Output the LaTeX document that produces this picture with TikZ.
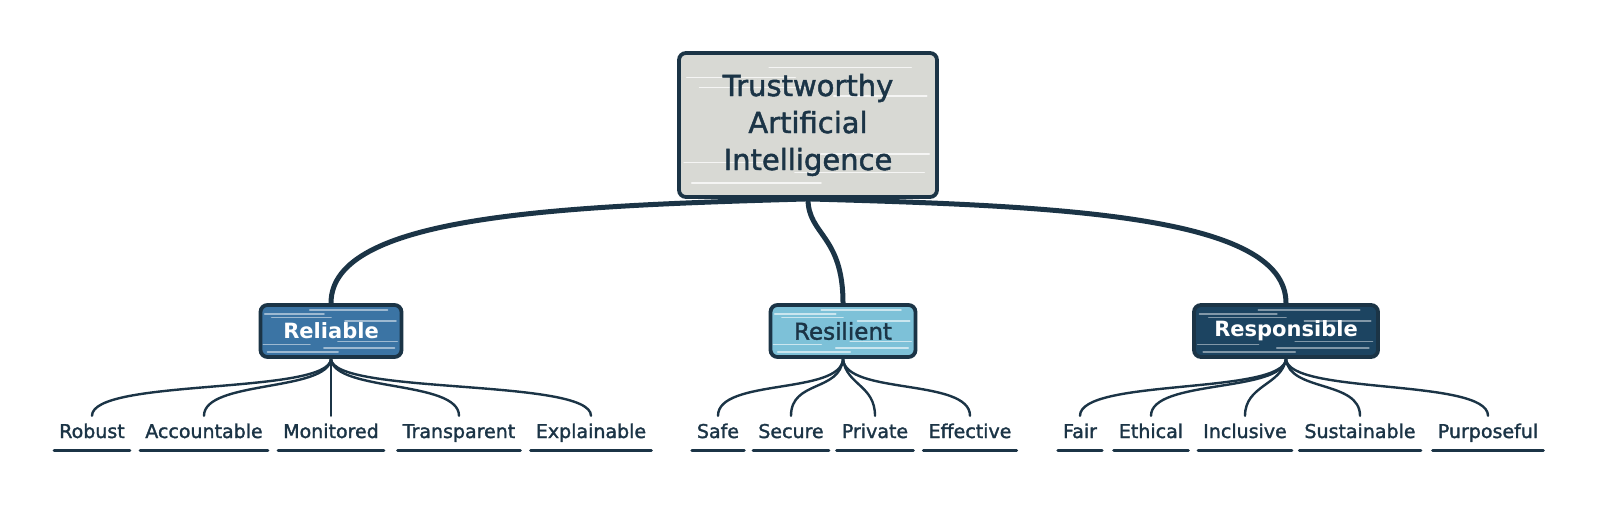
\documentclass[tikz,border=0pt]{standalone}
\usepackage{fontspec}
\setmainfont{DejaVu Sans}
\newfontfamily\medfont{DejaVu Sans}[FakeBold=1.6]
\usetikzlibrary{calc}
\definecolor{ink}{HTML}{1B3446}
\definecolor{rootfill}{HTML}{D8D9D4}
\definecolor{relfill}{HTML}{3B74A4}
\definecolor{resfill}{HTML}{7DC1D8}
\definecolor{rspfill}{HTML}{1C4461}
\tikzset{
  hatch/.style={path picture={
    \foreach \fy/\xa/\xb in {0.1/0.05/0.55, 0.17/0.45/0.95, 0.24/0.02/0.35, 0.3/0.55/0.97, 0.7/0.6/0.96, 0.76/0.08/0.5, 0.83/0.03/0.45, 0.9/0.35/0.9}{
      \coordinate (hA) at ($(path picture bounding box.south west)!\fy!(path picture bounding box.north west)$);
      \coordinate (hB) at ($(path picture bounding box.south east)!\fy!(path picture bounding box.north east)$);
      \draw[white, opacity=#1, line width=1.8pt, line cap=round] ($(hA)!\xa!(hB)$) -- ($(hA)!\xb!(hB)$);
    }}},
  box/.style={draw=ink, line width=3.8pt, rounded corners=7pt, inner sep=0pt, align=center},
  rootbox/.style={box, fill=rootfill, hatch=0.75, minimum width=258pt, minimum height=144pt,
    font=\medfont\fontsize{29}{37}\selectfont, text=ink},
  midbox/.style={box, minimum height=52pt},
  leaf/.style={text=ink, font=\medfont\fontsize{19}{22}\selectfont, inner xsep=5pt, inner ysep=0pt,
    text height=14pt, text depth=4pt, minimum height=34pt},
  branch/.style={draw=ink, line width=5pt, line cap=round},
  twig/.style={draw=ink, line width=2.4pt, line cap=round},
  uline/.style={draw=ink, line width=3pt, line cap=round},
}
\begin{document}
\begin{tikzpicture}[x=1pt, y=-1pt]
\useasboundingbox[fill=white] (0,0) rectangle (1600,504);

% root
\node[rootbox] (root) at (808,125) {Trustworthy\\Artificial\\Intelligence};

% middle boxes
\node[midbox, fill=relfill, hatch=0.5, text=white, font=\fontsize{21}{25}\selectfont\bfseries, minimum width=141pt] (rel) at (331,331) {Reliable};
\node[midbox, fill=resfill, hatch=0.6, text=ink, font=\medfont\fontsize{23}{27}\selectfont, minimum width=145pt] (res) at (843,331) {Resilient};
\node[midbox, fill=rspfill, hatch=0.45, text=white, font=\fontsize{21}{25}\selectfont\bfseries, minimum width=184pt] (rsp) at (1286,331) {Responsible};

% branches
\draw[branch] (root.south) .. controls (560,206) and (331,215) .. (rel.north);
\draw[branch] (root.south) .. controls (808,235) and (843,235) .. (res.north);
\draw[branch] (root.south) .. controls (1060,206) and (1286,215) .. (rsp.north);

% leaves
\foreach \n/\x/\t in {robust/92/Robust, accountable/204/Accountable, monitored/331/Monitored, transparent/459/Transparent, explainable/591/Explainable,
  safe/718/Safe, secure/791/Secure, private/875/Private, effective/970/Effective,
  fair/1080/Fair, ethical/1151/Ethical, inclusive/1245/Inclusive, sustainable/1360/Sustainable, purposeful/1488/Purposeful}{
  \node[leaf] (\n) at (\x,433) {\t};
  \draw[uline] (\n.south west) -- (\n.south east);
}

% twigs: Reliable
\draw[twig] (rel.south) .. controls (329,395) and (92,378) .. (robust.north);
\draw[twig] (rel.south) .. controls (328,392) and (204,380) .. (accountable.north);
\draw[twig] (rel.south) -- (monitored.north);
\draw[twig] (rel.south) .. controls (334,392) and (459,380) .. (transparent.north);
\draw[twig] (rel.south) .. controls (333,395) and (591,378) .. (explainable.north);

% twigs: Resilient
\draw[twig] (res.south) .. controls (841,395) and (718,378) .. (safe.north);
\draw[twig] (res.south) .. controls (840,392) and (791,380) .. (secure.north);
\draw[twig] (res.south) .. controls (846,385) and (875,385) .. (private.north);
\draw[twig] (res.south) .. controls (845,395) and (970,378) .. (effective.north);

% twigs: Responsible
\draw[twig] (rsp.south) .. controls (1284,395) and (1080,378) .. (fair.north);
\draw[twig] (rsp.south) .. controls (1283,393) and (1151,379) .. (ethical.north);
\draw[twig] (rsp.south) .. controls (1282,385) and (1245,385) .. (inclusive.north);
\draw[twig] (rsp.south) .. controls (1289,392) and (1360,380) .. (sustainable.north);
\draw[twig] (rsp.south) .. controls (1288,395) and (1488,378) .. (purposeful.north);
\end{tikzpicture}
\end{document}
